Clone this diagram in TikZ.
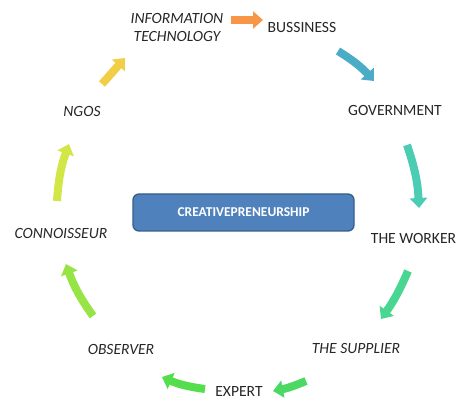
\documentclass[tikz,border=0pt]{standalone}
\usepackage{fontspec}
\setmainfont{Carlito}
\usetikzlibrary{arrows.meta}

\definecolor{itorange}{HTML}{F79646}
\definecolor{busblue}{HTML}{4BACC6}
\definecolor{govteal}{HTML}{4BCDB4}
\definecolor{workgreen}{HTML}{48D691}
\definecolor{supgreen}{HTML}{4BD964}
\definecolor{expgreen}{HTML}{55DE4B}
\definecolor{obslime}{HTML}{96E446}
\definecolor{conyellow}{HTML}{D2E646}
\definecolor{ngoyellow}{HTML}{F2CD46}
\definecolor{corefill}{HTML}{4F81BD}
\definecolor{coreline}{HTML}{385D8A}

\begin{document}
\begin{tikzpicture}[x=1pt, y=-1pt,
    label/.style={font=\fontsize{15.6}{18}\selectfont, text=black!85, inner sep=2pt},
    itlabel/.style={label, font=\fontsize{15.6}{18}\selectfont\itshape},
    corebox/.style={draw=coreline, line width=1.3pt, fill=corefill, rounded corners=6pt,
        minimum width=221pt, minimum height=37pt, text=white,
        font=\fontsize{13.5}{15}\selectfont\bfseries},
    flow/.style={line width=8pt, -{Triangle[width=17pt, length=10pt]}}]

    \useasboundingbox (0,0) rectangle (459,401);

    % centre
    \node[corebox] (core) at (243.5,212.5) {CREATIVEPRENEURSHIP};

    % ring of actors
    \node[itlabel, align=center] (it) at (177,27) {INFORMATION\\TECHNOLOGY};
    \node[label] (bus) at (302,27) {BUSSINESS};
    \node[label] (gov) at (395,110) {GOVERNMENT};
    \node[label] (work) at (413.5,238) {THE WORKER};
    \node[itlabel] (sup) at (356,349) {THE SUPPLIER};
    \node[label] (exp) at (239,391) {EXPERT};
    \node[itlabel] (obs) at (121,349) {OBSERVER};
    \node[itlabel] (con) at (61,233) {CONNOISSEUR};
    \node[itlabel] (ngo) at (82,111) {NGOS};

    % arrow ends
    \coordinate (it-out) at (231,20);
    \coordinate (bus-in) at (263,20);
    \coordinate (bus-out) at (338,51);
    \coordinate (gov-in) at (374,81);
    \coordinate (gov-out) at (407,145);
    \coordinate (work-in) at (419,208);
    \coordinate (work-out) at (408,271);
    \coordinate (sup-in) at (381,319);
    \coordinate (sup-out) at (306,381);
    \coordinate (exp-in) at (273,391);
    \coordinate (exp-out) at (205,389);
    \coordinate (obs-in) at (162,377);
    \coordinate (obs-out) at (93,316);
    \coordinate (con-in) at (66,264);
    \coordinate (con-out) at (57,201);
    \coordinate (ngo-in) at (69,144);
    \coordinate (ngo-out) at (102,84);
    \coordinate (it-in) at (125,58);

    % arrows
    \draw[flow, itorange] (it-out) -- (bus-in);
    \draw[flow, busblue] (bus-out) to[bend left=8] (gov-in);
    \draw[flow, govteal] (gov-out) to[bend left=8] (work-in);
    \draw[flow, workgreen] (work-out) to[bend left=6] (sup-in);
    \draw[flow, supgreen] (sup-out) to[bend left=6] (exp-in);
    \draw[flow, expgreen] (exp-out) to[bend left=8] (obs-in);
    \draw[flow, obslime] (obs-out) to[bend left=8] (con-in);
    \draw[flow, conyellow] (con-out) to[bend left=8] (ngo-in);
    \draw[flow, ngoyellow] (ngo-out) -- (it-in);

\end{tikzpicture}
\end{document}
